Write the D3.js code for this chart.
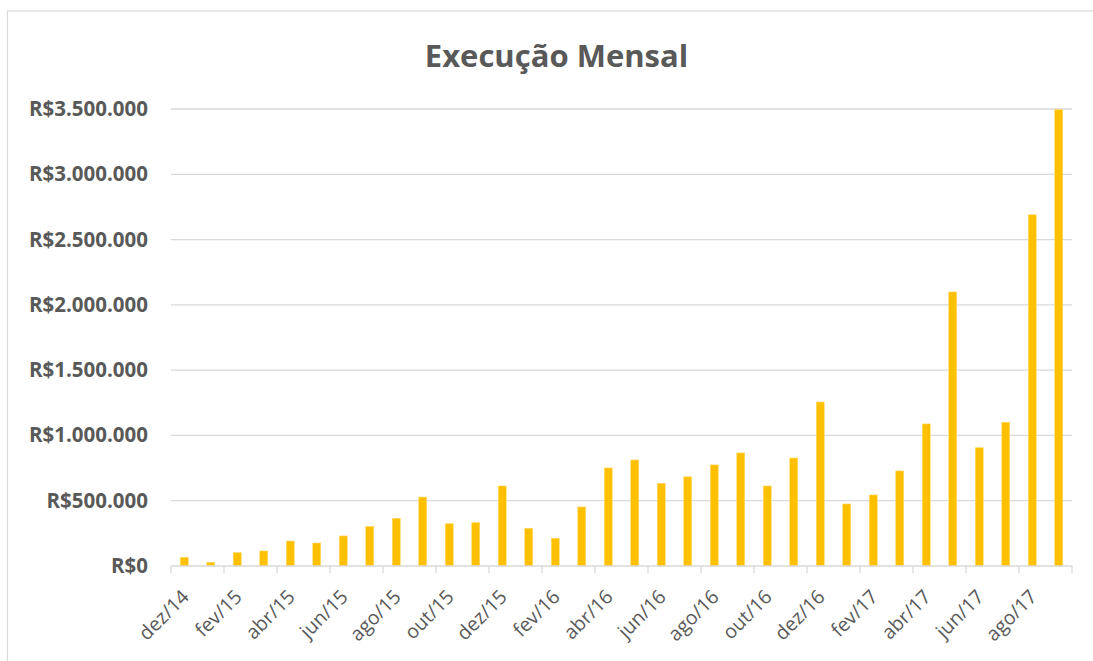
<!DOCTYPE html>
<html>
<head>
<meta charset="utf-8">
<script src="https://cdn.jsdelivr.net/npm/d3@7"></script>
<style>
  body { margin: 0; background: #fff; }
  text { font-family: "Open Sans", sans-serif; fill: #595959; }
</style>
</head>
<body>
<div id="chart"></div>
<script>
const WIDTH = 1093;
const HEIGHT = 661;
const MARGIN = { TOP: 109, BOTTOM: 95, LEFT: 171, RIGHT: 21 };

// meses (dez/14 .. set/17)
const months = ['dez/14', 'jan/15', 'fev/15', 'mar/15', 'abr/15', 'mai/15', 'jun/15', 'jul/15',
  'ago/15', 'set/15', 'out/15', 'nov/15', 'dez/15', 'jan/16', 'fev/16', 'mar/16', 'abr/16',
  'mai/16', 'jun/16', 'jul/16', 'ago/16', 'set/16', 'out/16', 'nov/16', 'dez/16', 'jan/17',
  'fev/17', 'mar/17', 'abr/17', 'mai/17', 'jun/17', 'jul/17', 'ago/17', 'set/17'];

// execução mensal em R$
const values = [67000, 28000, 102000, 115000, 191000, 176000, 230000, 304000,
  365000, 528000, 324000, 332000, 613000, 289000, 212000, 452000, 751000,
  812000, 633000, 683000, 774000, 866000, 613000, 827000, 1256000, 475000,
  544000, 728000, 1088000, 2099000, 906000, 1101000, 2690000, 3495000];

const yTicks = [0, 500000, 1000000, 1500000, 2000000, 2500000, 3000000, 3500000];

const width = WIDTH - MARGIN.LEFT - MARGIN.RIGHT;
const height = HEIGHT - MARGIN.TOP - MARGIN.BOTTOM;

const svg = d3.select('#chart')
  .append('svg')
    .attr('width', WIDTH)
    .attr('height', HEIGHT);

// moldura do gráfico
svg.append('rect')
  .attr('x', 7.5).attr('y', 11)
  .attr('width', WIDTH + 20).attr('height', HEIGHT + 20)
  .attr('fill', 'none')
  .attr('stroke', '#d9d9d9')
  .attr('stroke-width', 1.2);

svg.append('text')
  .attr('x', 556.5)
  .attr('y', 67)
  .attr('text-anchor', 'middle')
  .style('font-size', '31px')
  .style('font-weight', 'bold')
  .text('Execução Mensal');

const g = svg.append('g')
  .attr('transform', `translate(${MARGIN.LEFT}, ${MARGIN.TOP})`);

const x = d3.scaleBand()
  .domain(months)
  .range([0, width])
  .paddingInner(0.7)
  .paddingOuter(0.35);

const y = d3.scaleLinear()
  .domain([0, 3500000])
  .range([height, 0]);

const fmt = v => 'R$' + d3.format(',')(v).replace(/,/g, '.');

// linhas de grade
g.append('g')
  .selectAll('line')
  .data(yTicks.slice(1))
  .enter()
  .append('line')
    .attr('x1', 0)
    .attr('x2', width)
    .attr('y1', d => y(d))
    .attr('y2', d => y(d))
    .attr('stroke', '#d9d9d9')
    .attr('stroke-width', 1.3);

const yAxis = g.append('g')
  .call(d3.axisLeft(y).tickValues(yTicks).tickSize(0).tickPadding(23).tickFormat(fmt));
yAxis.select('.domain').remove();
yAxis.selectAll('text')
  .style('font-size', '20.5px')
  .style('font-weight', 'bold')
  .style('fill', '#595959')
  .style('font-family', '"Open Sans", sans-serif');

g.selectAll('.bar')
  .data(months)
  .enter()
  .append('rect')
    .attr('class', 'bar')
    .attr('x', d => x(d))
    .attr('y', (d, i) => y(values[i]))
    .attr('width', x.bandwidth())
    .attr('height', (d, i) => height - y(values[i]))
    .attr('fill', '#ffc000')
    .attr('stroke', '#ffd966')
    .attr('stroke-width', 0.6);

// eixo x: marcas a cada dois meses, nos limites das categorias
const step = x.step();
const tickPos = d3.range(0, months.length + 1, 2).map(i => i * step);

const xAxis = g.append('g').attr('transform', `translate(0, ${height})`);
xAxis.append('line')
  .attr('x1', 0).attr('x2', width)
  .attr('stroke', '#d9d9d9').attr('stroke-width', 1.3);
xAxis.selectAll('.tick')
  .data(tickPos)
  .enter()
  .append('line')
    .attr('x1', d => d).attr('x2', d => d)
    .attr('y1', 0).attr('y2', 7)
    .attr('stroke', '#d9d9d9').attr('stroke-width', 1.3);

xAxis.selectAll('.lbl')
  .data(months.filter((d, i) => i % 2 == 0))
  .enter()
  .append('text')
    .attr('class', 'lbl')
    .attr('text-anchor', 'end')
    .attr('transform', d => `translate(${x(d) + x.bandwidth() / 2 + 6}, 32) rotate(-45)`)
    .style('font-size', '19.5px')
    .text(d => d);
</script>
</body>
</html>
